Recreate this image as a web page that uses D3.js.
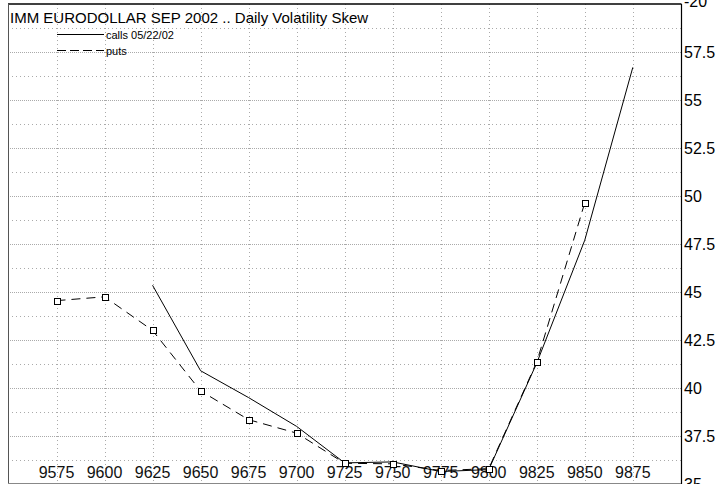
<!DOCTYPE html>
<html><head><meta charset="utf-8">
<script src="https://cdn.jsdelivr.net/npm/d3@7"></script>
<style>
html,body{margin:0;padding:0;background:#fff;}
svg{display:block;font-family:"Liberation Sans",Arial,sans-serif;}
</style></head>
<body><svg id="c" width="720" height="484"></svg>
<script>
const title = "IMM EURODOLLAR SEP 2002 .. Daily Volatility Skew";
const strikes = ["9575","9600","9625","9650","9675","9700","9725","9750","9775","9800","9825","9850","9875"];
const calls = [null,null,45.35,40.9,39.5,38.0,36.1,36.15,35.65,35.75,41.3,47.7,56.7];
const puts = [44.55,44.75,43.0,39.85,38.35,37.65,36.08,36.05,35.7,35.8,41.35,49.65,null];
const yTickValues = [60,57.5,55,52.5,50,47.5,45,42.5,40,37.5,35];
const yTickLabels = ["-20","57.5","55","52.5","50","47.5","45","42.5","40","37.5","35"];
const yMinorValues = [58.75,56.25,53.75,51.25,48.75,46.25,43.75,41.25,38.75,36.25];
const legendLabels = ["calls 05/22/02","puts"];

const svg = d3.select("#c");
const L = 8, R = 681, T = 4, B = 483;
const x = d3.scalePoint().domain(strikes).range([56.5, 632.8]);
const y = d3.scaleLinear().domain([35, 60]).range([484, 4]);

// gridlines
const g = svg.append("g");
g.selectAll(".minor").data(yMinorValues).join("line")
  .attr("x1", L).attr("x2", R).attr("y1", d => Math.round(y(d))+0.5).attr("y2", d => Math.round(y(d))+0.5)
  .attr("stroke", "#aaa").attr("stroke-width", 1).attr("stroke-dasharray", "1,3");
g.selectAll(".major").data(yTickValues.filter(v => v < 60 && v > 35)).join("line")
  .attr("x1", L).attr("x2", R).attr("y1", d => Math.round(y(d))+0.5).attr("y2", d => Math.round(y(d))+0.5)
  .attr("stroke", "#aaa").attr("stroke-width", 1).attr("stroke-dasharray", "1,1");
g.selectAll(".vert").data(strikes).join("line")
  .attr("x1", d => Math.round(x(d))+0.5).attr("x2", d => Math.round(x(d))+0.5).attr("y1", T).attr("y2", B)
  .attr("stroke", "#aaa").attr("stroke-width", 1).attr("stroke-dasharray", "1,3");

// frame
svg.append("line").attr("x1", L).attr("x2", R+0.5).attr("y1", T).attr("y2", T).attr("stroke", "#000").attr("stroke-width", 1.5);
svg.append("line").attr("x1", R+0.5).attr("x2", R+0.5).attr("y1", T).attr("y2", 484).attr("stroke", "#000").attr("stroke-width", 1.2);
svg.append("line").attr("x1", L+0.5).attr("x2", L+0.5).attr("y1", T).attr("y2", B).attr("stroke", "#555").attr("stroke-width", 1);
svg.append("line").attr("x1", L).attr("x2", R).attr("y1", B+0.5).attr("y2", B+0.5).attr("stroke", "#888").attr("stroke-width", 1);

// clip
svg.append("clipPath").attr("id", "clip").append("rect").attr("x", L).attr("y", T).attr("width", R-L).attr("height", B-T);

// x labels
svg.append("g").selectAll("text").data(strikes).join("text")
  .attr("x", d => x(d)).attr("y", 478).attr("text-anchor", "middle")
  .attr("font-size", 16).attr("fill", "#111").text(d => d);

// y labels (right)
svg.append("g").selectAll("text").data(yTickValues).join("text")
  .attr("x", 684).attr("y", (d,i) => i === 0 ? 7 : y(d)).attr("dy", (d,i) => i === 0 ? 0 : "0.36em")
  .attr("font-size", 16).attr("fill", "#000").text((d,i) => yTickLabels[i]);

// lines
const line = d3.line().defined(d => d.v != null).x(d => x(d.k)).y(d => y(d.v));
const plot = svg.append("g").attr("clip-path", "url(#clip)");
const callData = strikes.map((k,i) => ({k, v: calls[i]}));
const putData = strikes.map((k,i) => ({k, v: puts[i]}));
plot.append("path").datum(putData).attr("d", line).attr("fill", "none").attr("stroke", "#000")
  .attr("stroke-width", 1).attr("stroke-dasharray", "9,6");
plot.append("path").datum(callData).attr("d", line).attr("fill", "none").attr("stroke", "#000").attr("stroke-width", 1);
plot.selectAll("rect.m").data(putData.filter(d => d.v != null)).join("rect")
  .attr("x", d => Math.round(x(d.k)) - 3 + 0.5).attr("y", d => Math.round(y(d.v)) - 3 + 0.5)
  .attr("width", 6).attr("height", 6).attr("fill", "#fff").attr("stroke", "#000").attr("stroke-width", 1);

// title
svg.append("text").attr("x", 10).attr("y", 23).attr("font-size", 15).attr("fill", "#000").text(title);

// legend
const lg = svg.append("g");
lg.append("line").attr("x1", 57).attr("x2", 104).attr("y1", 34.5).attr("y2", 34.5).attr("stroke", "#000").attr("stroke-width", 1);
lg.append("line").attr("x1", 57).attr("x2", 104).attr("y1", 50.5).attr("y2", 50.5).attr("stroke", "#000").attr("stroke-width", 1).attr("stroke-dasharray", "9,4");
lg.append("text").attr("x", 106).attr("y", 38.5).attr("font-size", 11).text(legendLabels[0]);
lg.append("text").attr("x", 106).attr("y", 54.5).attr("font-size", 11).text(legendLabels[1]);
</script></body></html>
